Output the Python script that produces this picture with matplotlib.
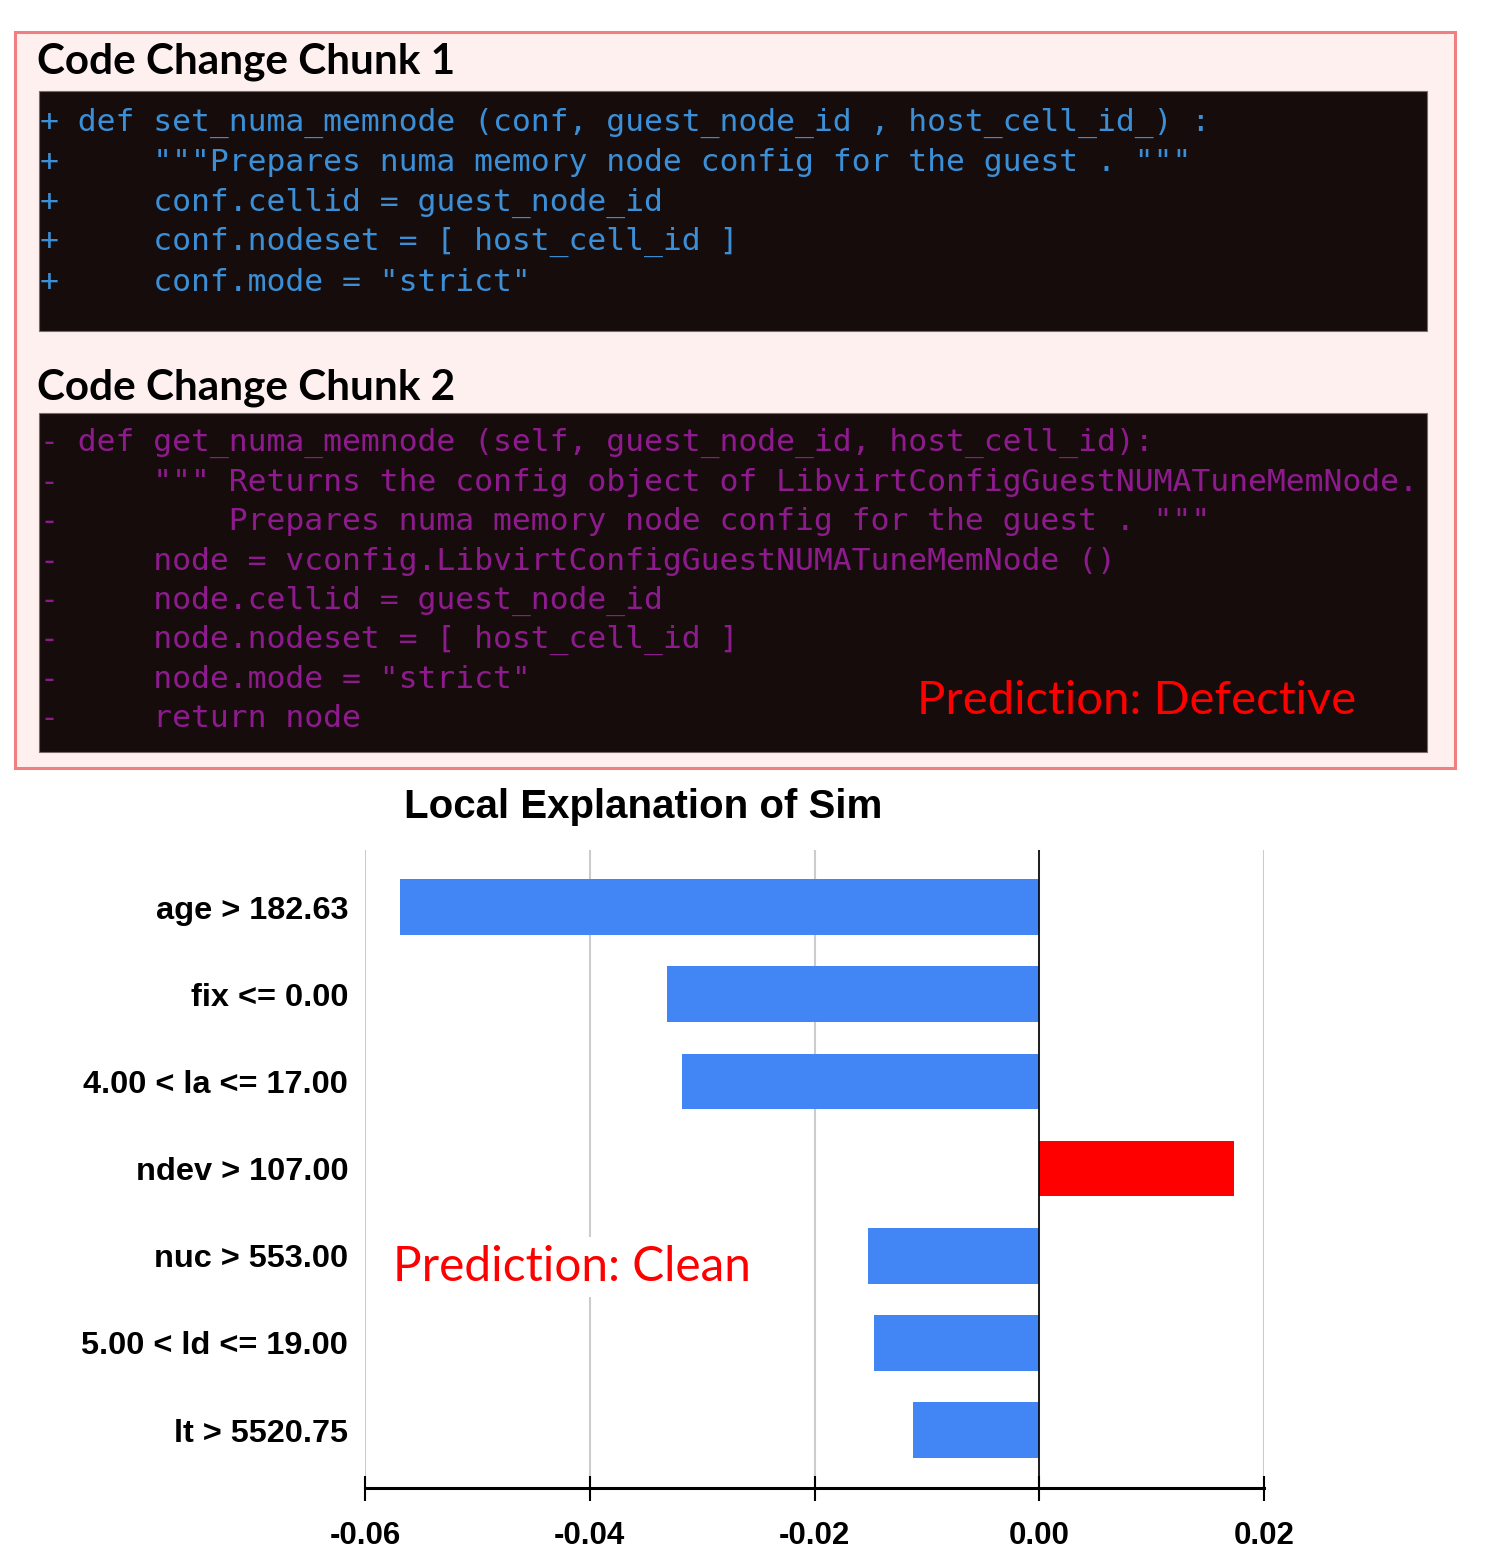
import matplotlib
matplotlib.use("Agg")
import matplotlib.pyplot as plt
from matplotlib.patches import Rectangle

# ---- data ----
features = ["age > 182.63", "fix <= 0.00", "4.00 < la <= 17.00", "ndev > 107.00",
            "nuc > 553.00", "5.00 < ld <= 19.00", "lt > 5520.75"]
weights = [-0.0569, -0.0331, -0.0318, 0.0173, -0.0152, -0.0147, -0.0112]
xticks = [-0.06, -0.04, -0.02, 0.00, 0.02]

chunk1 = [
    "+ def set_numa_memnode (conf, guest_node_id , host_cell_id_) :",
    '+     """Prepares numa memory node config for the guest . """',
    "+     conf.cellid = guest_node_id",
    "+     conf.nodeset = [ host_cell_id ]",
    '+     conf.mode = "strict"',
]
chunk2 = [
    "- def get_numa_memnode (self, guest_node_id, host_cell_id):",
    '-     """ Returns the config object of LibvirtConfigGuestNUMATuneMemNode.',
    '-         Prepares numa memory node config for the guest . """',
    "-     node = vconfig.LibvirtConfigGuestNUMATuneMemNode ()",
    "-     node.cellid = guest_node_id",
    "-     node.nodeset = [ host_cell_id ]",
    '-     node.mode = "strict"',
    "-     return node",
]

W, H = 1495, 1567
fig = plt.figure(figsize=(W / 100, H / 100), dpi=100)

# background layer in pixel coordinates
bg = fig.add_axes([0, 0, 1, 1])
bg.set_xlim(0, W)
bg.set_ylim(H, 0)
bg.axis("off")

bg.add_patch(Rectangle((15, 32), 1440, 736, facecolor="#fff0f0", edgecolor="#f08080", lw=2.2))
bg.add_patch(Rectangle((39, 91), 1388, 240, facecolor="#170c0c", edgecolor="#7a6a6a", lw=0.8))
bg.add_patch(Rectangle((39, 413), 1388, 339, facecolor="#170c0c", edgecolor="#7a6a6a", lw=0.8))

head_font = dict(family="Lato", weight="bold", fontsize=30.4, color="black", va="center", ha="left")
bg.text(37, 62, "Code Change Chunk 1", **head_font)
bg.text(37, 388, "Code Change Chunk 2", **head_font)

for i, line in enumerate(chunk1):
    bg.text(40, 123 + i * 39.8, line, family="DejaVu Sans Mono", fontsize=22.6,
            color="#3b8fd6", va="center", ha="left")
for i, line in enumerate(chunk2):
    bg.text(40, 443 + i * 39.4, line, family="DejaVu Sans Mono", fontsize=22.6,
            color="#8e1b8e", va="center", ha="left")

bg.text(917, 701, "Prediction: Defective", family="Lato", fontsize=34,
        color="#ff0000", va="center", ha="left")

bg.text(643, 807, "Local Explanation of Sim", family="Liberation Sans", weight="bold",
        fontsize=29, color="black", va="center", ha="center")

# ---- bar chart ----
ax = fig.add_axes([365 / W, 1 - 1488 / H, 899 / W, (1488 - 850) / H])
ypos = list(range(len(features)))
colors = ["#ff0000" if w > 0 else "#4285f4" for w in weights]
ax.barh(ypos, weights, height=0.64, color=colors, zorder=3)
ax.axvline(0, color="black", lw=1.2, zorder=4)

ax.set_xlim(-0.06, 0.02)
ax.set_ylim(6.665, -0.655)
ax.set_xticks(xticks)
ax.set_xticklabels([f"{t:.2f}" for t in xticks])
ax.set_yticks(ypos)
ax.set_yticklabels(features)
ax.xaxis.grid(True, color="#cccccc", lw=1.5, zorder=0)
ax.set_axisbelow(True)

for side in ["top", "right", "left"]:
    ax.spines[side].set_visible(False)
ax.spines["bottom"].set_linewidth(2.2)
ax.tick_params(axis="x", direction="inout", length=18, width=1.5, pad=15)
ax.tick_params(axis="y", length=0, pad=12)
for lab in ax.get_xticklabels() + ax.get_yticklabels():
    lab.set_family("Liberation Sans")
    lab.set_weight("bold")
for lab in ax.get_xticklabels():
    lab.set_fontsize(22.5)
for lab in ax.get_yticklabels():
    lab.set_fontsize(23.4)
ax.set_facecolor("none")

ax.text(-0.0575, 4.13, "Prediction: Clean", family="Lato", fontsize=34.4, color="#ff0000",
        va="center", ha="left", zorder=5,
        bbox=dict(facecolor="white", edgecolor="none", pad=6))

fig.savefig("out.png", dpi=100)
